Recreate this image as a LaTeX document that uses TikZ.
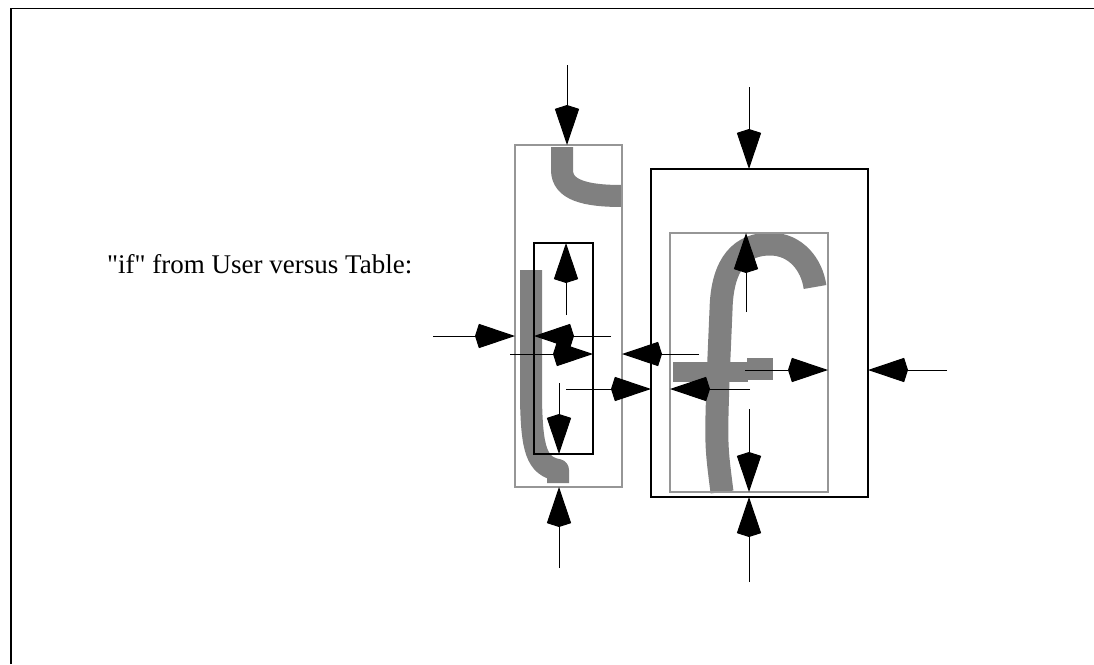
\documentclass[tikz,border=0pt]{standalone}
\usepackage{fontspec}
\newfontfamily\capfont{Liberation Serif}
\usetikzlibrary{arrows.meta}
\definecolor{inkgray}{RGB}{128,128,128}
\definecolor{boxgray}{RGB}{150,150,150}
\tikzset{
  arr/.style={-{Stealth[length=36pt,width=24pt,inset=-4pt]}, line width=1pt, black},
  stroke/.style={draw=inkgray, line width=22pt, line cap=butt, line join=round},
  graybox/.style={draw=boxgray, line width=1.4pt, inner sep=0pt, outer sep=0pt},
  blackbox/.style={draw=black, line width=1.2pt, inner sep=0pt, outer sep=0pt},
}
\begin{document}
\begin{tikzpicture}[x=1pt, y=-1pt]
\useasboundingbox (0,0) rectangle (1094,664);
% page frame
\draw[line width=1.6pt] (11,664) -- (11,8.5) -- (1094,8.5);

% caption
\node[anchor=base west, inner sep=0pt, font=\capfont\fontsize{27}{30}\selectfont] (cap) at (107,273) {"if" from User versus Table:};

% handwritten strokes: "i"
\draw[stroke] (562,147) -- (562,170) .. controls (562,190) and (585,196) .. (622,196);
\draw[stroke] (531,270) -- (531,400) .. controls (532,448) and (536,466) .. (558,470) -- (558,483);
% handwritten strokes: "f"
\draw[stroke, line width=23pt] (722,492) .. controls (716,445) .. (718,380) -- (721,310)
  .. controls (722,262) and (742,244) .. (770,244) .. controls (796,244) and (812,265) .. (815,287);
\fill[inkgray] (673,362) rectangle (748,382);
\fill[inkgray] (747,358) rectangle (773,380);

% bounding boxes
\node[graybox, minimum width=107pt, minimum height=342pt] (ibox) at (568.5,316) {};
\node[blackbox, minimum width=59pt, minimum height=211pt] (iin) at (563.5,348.5) {};
\node[blackbox, minimum width=217pt, minimum height=328pt] (fbox) at (759.5,333) {};
\node[graybox, minimum width=158pt, minimum height=259pt] (fin) at (749,362.5) {};

% arrow tails
\coordinate (a1) at (567,65);
\coordinate (a2) at (559,568);
\coordinate (a3) at (566,315);
\coordinate (a4) at (559,383);
\coordinate (a5) at (433,336);
\coordinate (a6) at (611,336);
\coordinate (a7) at (510,354);
\coordinate (a8) at (699,354);
\coordinate (a9) at (566,389);
\coordinate (a10) at (750,389);
\coordinate (a11) at (745,370);
\coordinate (a12) at (947,370);
\coordinate (a13) at (749,87);
\coordinate (a14) at (746,312);
\coordinate (a15) at (749,409);
\coordinate (a16) at (749,582);

% "i" measurements
\draw[arr] (a1) -- (a1 |- ibox.north);
\draw[arr] (a2) -- (a2 |- ibox.south);
\draw[arr] (a3) -- (a3 |- iin.north);
\draw[arr] (a4) -- (a4 |- iin.south);
\draw[arr] (a5) -- (ibox.west |- a5);
\draw[arr] (a6) -- (iin.west |- a6);
\draw[arr] (a7) -- (iin.east |- a7);
\draw[arr] (a8) -- (ibox.east |- a8);
% "f" measurements
\draw[arr] (a9) -- (fbox.west |- a9);
\draw[arr] (a10) -- (fin.west |- a10);
\draw[arr] (a11) -- (fin.east |- a11);
\draw[arr] (a12) -- (fbox.east |- a12);
\draw[arr] (a13) -- (a13 |- fbox.north);
\draw[arr] (a14) -- (a14 |- fin.north);
\draw[arr] (a15) -- (a15 |- fin.south);
\draw[arr] (a16) -- (a16 |- fbox.south);
\end{tikzpicture}
\end{document}
